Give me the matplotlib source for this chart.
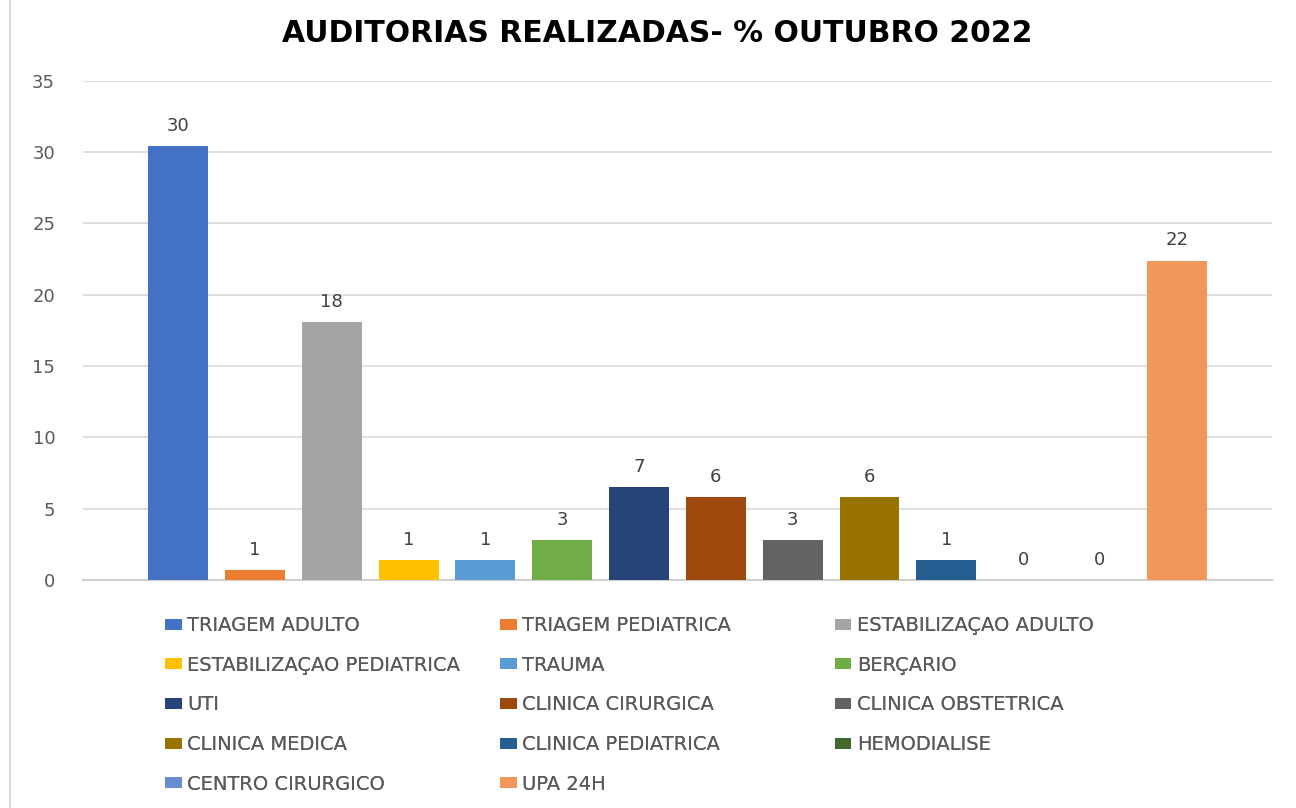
import matplotlib.pyplot as plt
from matplotlib.lines import Line2D

# data
setores = ['TRIAGEM ADULTO', 'TRIAGEM PEDIATRICA', 'ESTABILIZAÇAO ADULTO',
           'ESTABILIZAÇAO PEDIATRICA', 'TRAUMA', 'BERÇARIO',
           'UTI', 'CLINICA CIRURGICA', 'CLINICA OBSTETRICA',
           'CLINICA MEDICA', 'CLINICA PEDIATRICA', 'HEMODIALISE',
           'CENTRO CIRURGICO', 'UPA 24H']
percentuais = [30.4, 0.7, 18.1, 1.4, 1.4, 2.8, 6.5, 5.8, 2.8, 5.8, 1.4, 0, 0, 22.4]
cores = ['#4472C4', '#ED7D31', '#A5A5A5', '#FFC000', '#5B9BD5', '#70AD47',
         '#264478', '#9E480E', '#636363', '#997300', '#255E91', '#43682B',
         '#698ED0', '#F1975A']
yticks = [0, 5, 10, 15, 20, 25, 30, 35]

fig = plt.figure(figsize=(12.96, 8.08), dpi=100)
ax = fig.add_axes([0.064, 0.282, 0.9175, 0.618])

barras = []
for i, (nome, v, c) in enumerate(zip(setores, percentuais, cores)):
    b = ax.bar(i, v, width=0.78, color=c, label=nome, zorder=3)
    barras.append(b)
    # excel rounds half up
    ax.annotate(str(int(v + 0.5)), (i, v), xytext=(0, 8), textcoords='offset points',
                ha='center', va='bottom', fontsize=13, color='#404040',
                family='DejaVu Sans')

ax.set_xlim(-1.24, 14.24)
ax.set_ylim(0, 35)
ax.set_yticks(yticks)
ax.set_xticks([])
ax.grid(axis='y', color='#D9D9D9', linewidth=1.2, zorder=0)
for s in ['top', 'right', 'left']:
    ax.spines[s].set_visible(False)
ax.spines['bottom'].set_color('#D0D0D0')
ax.spines['bottom'].set_linewidth(1.5)
ax.tick_params(axis='y', length=0, pad=20, labelsize=13, labelcolor='#595959')

fig.text(0.507, 0.959, 'AUDITORIAS REALIZADAS- % OUTUBRO 2022', ha='center',
         va='center', fontsize=21.5, fontweight='bold', color='black',
         family='DejaVu Sans')

# legend, three columns filled row by row
xs = [0.1213, 0.3798, 0.638]
for c in range(3):
    leg = fig.legend(handles=barras[c::3], labels=setores[c::3],
                     loc='upper left', bbox_to_anchor=(xs[c], 0.247),
                     frameon=False, ncol=1, handlelength=0.85, handleheight=0.5,
                     handletextpad=0.3, labelspacing=1.06,
                     prop={'family': 'DejaVu Sans', 'size': 14},
                     labelcolor='#595959', borderaxespad=0)
    fig.add_artist(leg)

fig.add_artist(Line2D([0.008, 0.008], [0, 1], color='#D9D9D9', linewidth=1.5))

fig.savefig('out.png', dpi=100)
